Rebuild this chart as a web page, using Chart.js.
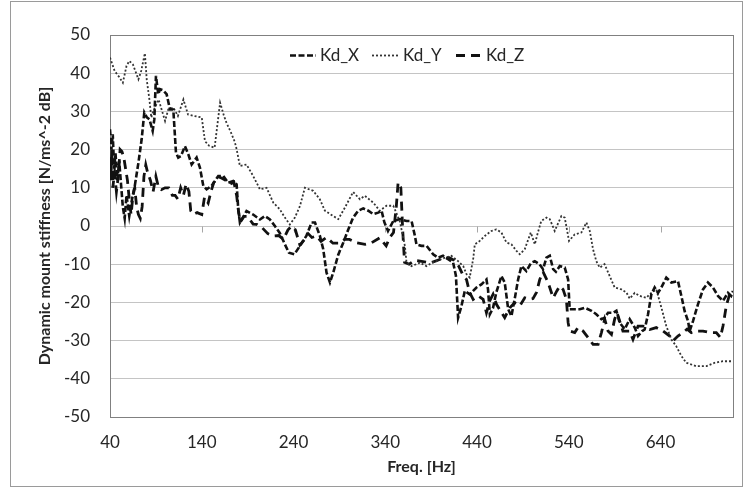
<!DOCTYPE html>
<html>
<head>
<meta charset="utf-8">
<script src="https://cdn.jsdelivr.net/npm/chart.js@4.4.1/dist/chart.umd.min.js"></script>
<style>
  html, body { margin: 0; padding: 0; background: #fff; }
  canvas { display: block; }
</style>
</head>
<body>
<canvas id="chart" width="744" height="488"></canvas>
<script>
// ================= DATA =================
const X_TICKS = [40, 140, 240, 340, 440, 540, 640];

const kdXFreq = [40, 41.5, 43, 44.5, 46, 48, 50, 52, 54, 56, 58, 61, 64, 67, 71, 74.5, 77.4, 80, 83, 86.5,
  88.3, 90.1, 92.6, 94.5, 98, 101.7, 105.4, 109, 111.9, 114.4, 117.3, 121.7, 125.3, 129, 134.4, 138, 141.7, 145.3, 150.7, 154.4,
  158, 163.4, 168.9, 174.3, 178, 179.8, 181.6, 188.8, 196, 203.4, 208.8, 214.3, 219.7, 225, 230.6, 235, 241, 247, 254, 259.7,
  263.4, 268.8, 272.4, 276, 279.7, 283.3, 288.8, 294.2, 299.7, 305, 310.6, 316, 321.5, 326.9, 332.3, 336, 339, 343, 348.7, 356,
  363.2, 368.7, 372.3, 374, 379.5, 385, 392.2, 397.6, 403, 408.5, 414, 417, 419.4, 423, 426.7, 432, 439.4, 444.8, 450.3, 452,
  454, 457.5, 461, 466.6, 470.2, 474, 477.5, 481, 484.8, 488.4, 493.8, 499, 503, 508, 512, 515.7, 519.3, 523, 526, 530.2,
  535.6, 539.3, 541, 552, 557.4, 564.7, 570, 575.6, 579.2, 582.8, 588.3, 591.9, 595.5, 601, 606.4, 611.9, 615.5, 620, 622.7, 626.4,
  630, 633.6, 637.3, 640.9, 646.3, 651.8, 659, 662.7, 666.3, 670, 671.8, 675.4, 680.8, 686.3, 691.7, 697.2, 702.6, 708.1, 713.5, 717,
  719];
const kdXVal = [25.3, 20, 24, 15, 19, 12, 17, 11, 5, 2, 8, 2.6, 7, 10.5, 16.6, 22.7, 29.7, 28.5, 27.9, 24.9,
  27.9, 39.3, 34.5, 35.8, 35.5, 34.5, 30.5, 30.5, 19.2, 17.9, 18.3, 20.9, 18.8, 16.1, 17.9, 15.3, 10.5, 9.6, 10.5, 11.8,
  13.1, 13.1, 11.3, 11.8, 10.9, 4.3, 0.9, 3.9, 3, 1.7, 2.6, 1.7, 0, -1.8, -4.8, -7, -7.4, -5.2, -2.6, 0.9,
  0.9, -2.6, -6.1, -12.2, -14.8, -12.2, -7.5, -4.4, -0.9, 2.2, 4, 4.6, 4, 3.1, 3.5, 4, 1, -1.3, 1.3, 1.8,
  1.3, 1.3, -2.6, -4.8, -5.2, -5.2, -7.4, -8.3, -7.8, -8.7, -9.6, -13, -24, -21, -17, -17.9, -16.1, -15.3, -14, -16.6,
  -23.1, -21.4, -17.4, -13.1, -14.8, -21.8, -23.6, -19.2, -14, -10.5, -11.8, -9.6, -9.2, -10, -11.3, -8.3, -7.8, -11.3, -12, -10.5,
  -10.9, -14, -21.8, -21.8, -21.4, -22.2, -23.1, -24.4, -24, -22.7, -22.7, -22.2, -25.3, -27, -24.4, -26.6, -28.8, -27.5, -27.1, -23.1,
  -17.9, -16.1, -17.5, -16.1, -13.5, -14.8, -14.4, -18.3, -22.3, -24.9, -27.5, -24.9, -20.5, -16.6, -14.8, -16.1, -18.3, -19.6, -17.5, -18.3,
  -17];

const kdYFreq = [40, 45, 50, 54, 58, 61, 65, 71, 74, 78, 80, 83, 85, 87, 93, 100, 103.5, 109, 114, 120,
  125, 132, 140, 143.5, 148, 154, 160, 164, 167, 172, 176, 178, 181.6, 188.8, 196, 203.4, 210.6, 218, 225, 230.6,
  236, 241.5, 247, 252.4, 261.5, 268.7, 274.2, 283.3, 288.8, 296, 305, 312.4, 317.8, 327, 334, 341.4, 348.7, 352, 356, 361.4,
  363.2, 368.7, 377.7, 385, 392, 398, 405, 412, 419.4, 425, 428.5, 432, 435.8, 437.6, 443, 448.5, 455.7, 461, 466.6, 472,
  477.5, 483, 486.6, 492, 498.6, 503, 506, 510, 515.7, 519.3, 524.7, 528, 532, 535.6, 540.3, 546.5, 553.8, 559.2, 562.9, 566.5,
  570, 573.8, 579, 584.6, 590, 597.4, 602.8, 606.4, 611.9, 617.3, 624.6, 628, 635.4, 641, 646.3, 651.8, 657, 662.7, 668, 679,
  690, 699, 708, 719];
const kdYVal = [44.1, 40.6, 39, 37.5, 41.9, 43.2, 42.3, 38.4, 40.6, 45.2, 38.4, 33, 28.4, 30, 33.1, 27.5, 30.5, 31, 28.8, 33.1,
  29.2, 28.8, 28.4, 22.2, 21, 20.5, 32.3, 29, 27, 24.4, 22, 20.1, 15.7, 16.1, 13.1, 9.6, 10, 6.1, 4.4, 2.2,
  0.4, 2.2, 5.2, 10, 9.2, 7, 4, 2.6, 1.8, 4.8, 8.9, 7, 7.9, 6.1, 4, 5.3, 5.3, 3.5, 1.1, -5.2,
  -9.6, -10.5, -9.6, -10.5, -9.5, -9, -8.3, -7.8, -9.2, -10.5, -12.6, -13.5, -8.7, -4.8, -3.9, -2.6, -1.3, -0.9, -1.7, -4.3,
  -4.8, -6.5, -7.4, -6.1, -1.7, -4.8, -2, 1.3, 2.2, 1.8, -1.3, 0.5, 2.6, 2.2, -3.9, -2.2, -1.7, 0.9, -1.3, -6.1,
  -9.2, -10.9, -10, -13.1, -16.1, -16.6, -17.4, -19, -17.5, -18.3, -18.8, -17.9, -16.6, -21.4, -26.2, -29.7, -31.4, -34, -35.8, -36.7,
  -36.7, -35.8, -35.4, -35.4];

const kdZFreq = [40, 41, 42, 43, 45, 47, 49, 51, 53, 55, 57, 59, 61, 63, 65, 67, 69, 71, 73, 75,
  77, 79, 81, 84, 87, 90, 93, 96, 100, 104, 108, 111, 114, 117, 120, 123, 126, 128, 131, 135,
  140, 143, 147, 150, 153, 157, 162, 167, 171, 175, 178, 180, 182, 186, 190, 196, 200, 206, 212, 218,
  224, 229, 234, 238, 242, 247, 252, 256, 260, 265, 270, 276, 283, 290, 296, 301, 309, 318, 325, 334,
  341, 345, 349, 352, 354, 357, 359, 361, 366, 372, 378, 385, 390, 400, 410, 415, 420, 425, 428.5, 432,
  435.8, 441.2, 446.7, 450.3, 454, 457.5, 461.2, 465, 470.2, 475.7, 481, 486.6, 492, 497.5, 501, 504.8, 508.4, 512, 517.5, 523,
  527, 530.2, 533.8, 537.4, 539.3, 541.1, 546.5, 550, 555.6, 561, 566.5, 572, 575.6, 579.2, 582.8, 586.5, 590, 592.6, 599, 606.4,
  610, 615.5, 620.9, 628.2, 635.4, 642.7, 650, 653.6, 659, 664.5, 669, 673.6, 679, 686.3, 693.5, 700.8, 705.2, 708.1, 711.7, 715.3,
  719];
const kdZVal = [18, 12, 20, 10, 14, 9, 13, 20, 19.5, 18, 15, 12, 7, 3, 8, 10, 5, 3, 2, 5,
  13, 16, 14, 12, 9, 13, 10, 9.5, 10, 10, 8, 8, 7, 10, 8, 11, 9, 4, 3, 3.5,
  3, 7.5, 6, 9, 11.3, 13, 12.5, 11.8, 11, 11.5, 8, 4, 1, 2.5, 2.5, 0.5, 0.4, -0.5, -2, -2.6,
  -2.5, -3.5, -1, 0, -1, -5, -3.5, -2, -3, -2.6, -4, -3, -4.5, -4.5, -3.5, -3.5, -4.4, -4.8, -4.4, -3.1,
  -5.2, -3, -1.7, 5, 11.4, 10, -1, -9.5, -10, -9, -9.2, -9.5, -9.6, -8.7, -8.3, -9, -10.5, -13, -14, -17.4,
  -19.2, -18.3, -19.2, -22.7, -19.5, -17.9, -20.5, -22, -24, -21.4, -20.1, -20.9, -18.8, -19.2, -19, -17.4, -14, -12, -14.8, -18.8,
  -17, -15.7, -16.6, -19.2, -25.3, -27.5, -27.9, -26.6, -27.5, -29.2, -31, -31, -27.9, -24.4, -27.5, -28.4, -24.4, -22.7, -27.5, -27.5,
  -29.7, -26.2, -26.2, -27.1, -26.6, -27.5, -28.8, -30.1, -28.8, -27.9, -27, -27.9, -27.5, -27.5, -27.9, -27.9, -29.2, -26.2, -20.9, -17.9,
  -17];

// ================= STYLE =================
const FONT = 'Lato, "Open Sans", sans-serif';
const SERIES = [
  { label: 'Kd_X', freq: kdXFreq, values: kdXVal, color: '#111', width: 2.6, dash: [6, 2.5] },
  { label: 'Kd_Y', freq: kdYFreq, values: kdYVal, color: '#333', width: 1.8, dash: [2, 2] },
  { label: 'Kd_Z', freq: kdZFreq, values: kdZVal, color: '#111', width: 2.8, dash: [9, 6] }
];

function toPoints(freq, values) {
  return freq.map((f, i) => ({ x: f, y: values[i] }));
}

// marco del gráfico, borde del área y pequeñas marcas sobre el eje 0
const framePlugin = {
  id: 'frame',
  beforeDraw(chart) {
    const c = chart.ctx;
    c.save();
    c.strokeStyle = '#9a9a9a';
    c.lineWidth = 1;
    c.strokeRect(10.5, 1.5, 732, 485);
    c.restore();
  },
  beforeDatasetsDraw(chart) {
    const c = chart.ctx;
    const a = chart.chartArea;
    const xs = chart.scales.x, ys = chart.scales.y;
    c.save();
    c.strokeStyle = '#a6a6a6';
    c.lineWidth = 1;
    const y0 = Math.round(ys.getPixelForValue(0)) + 0.5;
    c.beginPath();
    X_TICKS.forEach(v => {
      const px = Math.round(xs.getPixelForValue(v)) + 0.5;
      c.moveTo(px, y0);
      c.lineTo(px, y0 + 6);
    });
    c.stroke();
    c.strokeStyle = '#808080';
    c.strokeRect(Math.round(a.left) + 0.5, Math.round(a.top) + 0.5,
      Math.round(a.right - a.left), Math.round(a.bottom - a.top));
    c.restore();
  }
};

// leyenda dentro del área de trazado
const legendPlugin = {
  id: 'insideLegend',
  afterDraw(chart) {
    const c = chart.ctx;
    const spots = [290, 372, 456];
    const sampleW = [26, 27, 26];
    const y = 55.5;
    c.save();
    c.font = '17px ' + FONT;
    c.textBaseline = 'middle';
    c.fillStyle = '#262626';
    SERIES.forEach((s, i) => {
      c.strokeStyle = s.color;
      c.lineWidth = s.width;
      c.setLineDash(s.dash);
      c.beginPath();
      c.moveTo(spots[i], y);
      c.lineTo(spots[i] + sampleW[i], y);
      c.stroke();
      c.setLineDash([]);
      c.fillText(s.label, spots[i] + sampleW[i] + 4, y);
    });
    c.restore();
  }
};

const ctx = document.getElementById('chart').getContext('2d');
new Chart(ctx, {
  type: 'line',
  data: {
    datasets: SERIES.map(s => ({
      label: s.label,
      data: toPoints(s.freq, s.values),
      borderColor: s.color,
      borderWidth: s.width,
      borderDash: s.dash,
      pointRadius: 0,
      tension: 0,
      fill: false
    }))
  },
  options: {
    responsive: false,
    animation: false,
    layout: { padding: { left: 10, right: 11, top: 35, bottom: 0 } },
    plugins: { legend: { display: false }, tooltip: { enabled: false } },
    scales: {
      x: {
        type: 'linear',
        min: 40, max: 719,
        afterBuildTicks: s => { s.ticks = X_TICKS.map(v => ({ value: v })); },
        afterFit: s => { s.height = 71; },
        grid: { display: false, drawTicks: false },
        border: { display: false },
        ticks: { color: '#262626', padding: 15, font: { family: FONT, size: 17 }, maxRotation: 0, autoSkip: false },
        title: {
          display: true, text: 'Freq. [Hz]', color: '#262626',
          font: { family: FONT, size: 16, weight: 'bold' },
          padding: { top: 0, bottom: 12 }
        }
      },
      y: {
        min: -50, max: 50,
        afterFit: s => { s.width = 100; },
        ticks: { stepSize: 10, color: '#262626', padding: 20, font: { family: FONT, size: 17 } },
        grid: { color: '#c4c4c4', drawTicks: false },
        border: { display: true, color: '#8c8c8c' },
        title: {
          display: true, text: 'Dynamic mount stiffness [N/ms^-2 dB]', color: '#262626',
          font: { family: FONT, size: 16, weight: 'bold' },
          padding: { top: 25, bottom: 0 }
        }
      }
    }
  },
  plugins: [framePlugin, legendPlugin]
});
</script>
</body>
</html>
